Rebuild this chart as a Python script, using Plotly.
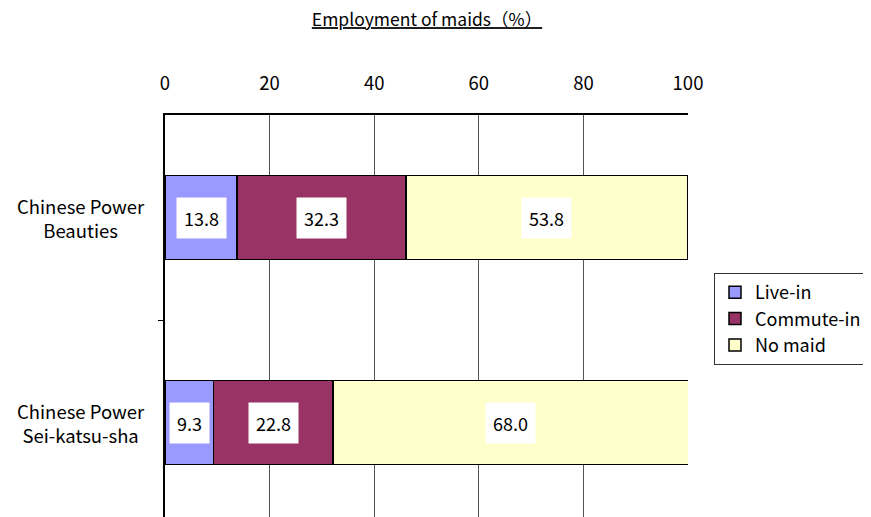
import plotly.graph_objects as go

categories = ["Chinese Power<br>Beauties", "Chinese Power<br>Sei-katsu-sha"]
series_names = ["Live-in", "Commute-in", "No maid"]
live_in = [13.8, 9.3]
commute_in = [32.3, 22.8]
no_maid = [53.8, 68.0]
colors = ["#9999FF", "#993366", "#FFFFCC"]
x_ticks = [0, 20, 40, 60, 80, 100]

FONT = "Noto Sans CJK JP"
O = 8  # page body margin
W, H = 871 - O, 517 - O
L, R, T = 165 - O, 688 - O, 115 - O
PW, PH = R - L, H - T

fig = go.Figure()
ypos = list(range(len(categories)))
all_series = [live_in, commute_in, no_maid]
for name, vals, col in zip(series_names, all_series, colors):
    fig.add_trace(go.Bar(
        y=ypos, x=vals, name=name, orientation="h",
        marker=dict(color=col, line=dict(color="black", width=1.5)),
        width=0.41,
    ))

# value labels in white boxes
for i in ypos:
    cum = 0
    for vals in all_series:
        v = vals[i]
        fig.add_annotation(x=cum + v / 2, y=i, text=f"{v:.1f}", showarrow=False,
                           font=dict(family=FONT, size=18, color="black"),
                           bgcolor="white", borderpad=7, xref="x", yref="y")
        cum += v

# category labels
for i, c in enumerate(categories):
    fig.add_annotation(x=(81 - O - L) / PW, y=i, xref="paper", yref="y", text=c,
                       showarrow=False, align="center", xanchor="center",
                       font=dict(family=FONT, size=18.5, color="black"))

fig.update_layout(
    width=W, height=H,
    margin=dict(l=L, r=W - R, t=T, b=0, autoexpand=False),
    paper_bgcolor="white", plot_bgcolor="white",
    barmode="stack",
    font=dict(family=FONT, size=18, color="black"),
    title=dict(text="<u>Employment of maids（%）</u>", x=(427 - O) / W, xanchor="center",
               y=1 - (20 - O) / H, yanchor="middle", font=dict(size=17.5, family=FONT)),
    xaxis=dict(side="top", range=[0, 100], tickvals=x_ticks, showgrid=True,
               gridcolor="#555555", gridwidth=1, showline=True, linecolor="black",
               linewidth=1.5, ticks="", zeroline=False, automargin=False,
               ticklabelstandoff=16, tickfont=dict(size=18.5, family=FONT)),
    yaxis=dict(range=[1.461, -0.5], tickvals=[0.5], ticktext=[""], ticks="outside",
               ticklen=5, tickcolor="black", showgrid=False, showline=True,
               linecolor="black", linewidth=1.5, zeroline=False, automargin=False),
    legend=dict(x=(714 - O - L) / PW, y=1 - (273 - O - T) / PH, xref="paper", yref="paper",
                xanchor="left", yanchor="top", bordercolor="#333333", borderwidth=1,
                font=dict(size=18, family=FONT), traceorder="normal",
                itemwidth=30, tracegroupgap=0),
    showlegend=True,
)
fig.write_html("out.html")
